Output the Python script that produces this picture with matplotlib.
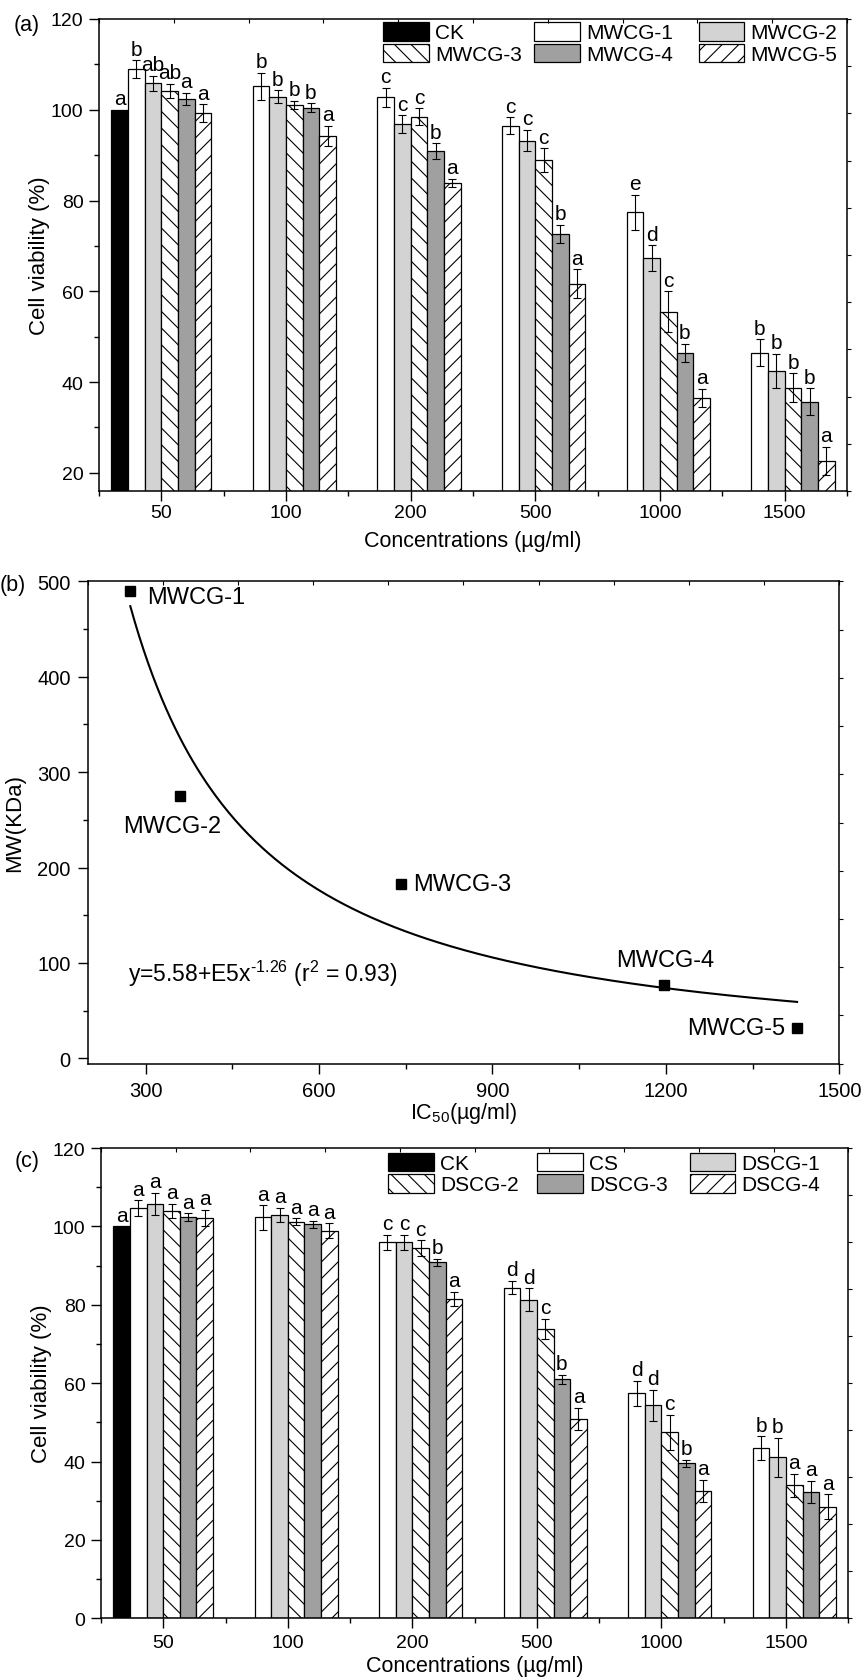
import numpy as np
import matplotlib
matplotlib.use("Agg")
import matplotlib.pyplot as plt
from matplotlib.patches import Patch
from matplotlib.legend import Legend
from matplotlib.ticker import MultipleLocator, FixedLocator

# ---------------- data ----------------
concentrations = ["50", "100", "200", "500", "1000", "1500"]

# (a) molecular-weight fractions
ck_a = 100.0
mwcg1 = [108.9, 105.2, 102.8, 96.5, 77.4, 46.5]
mwcg2 = [105.8, 102.9, 96.8, 93.2, 67.3, 42.5]
mwcg3 = [104.1, 101.1, 98.5, 88.9, 55.5, 38.8]
mwcg4 = [102.4, 100.5, 90.9, 72.6, 46.5, 35.7]
mwcg5 = [99.2, 94.3, 83.9, 61.7, 36.5, 22.6]
mwcg1_sd = [2.0, 3.0, 2.1, 1.8, 3.9, 2.9]
mwcg2_sd = [1.65, 1.4, 2.0, 2.35, 2.8, 3.75]
mwcg3_sd = [1.6, 0.9, 1.8, 2.6, 4.5, 3.15]
mwcg4_sd = [1.4, 0.9, 1.7, 2.0, 2.0, 2.9]
mwcg5_sd = [2.0, 2.2, 0.95, 3.2, 2.0, 3.1]
mwcg1_sig = ["b", "b", "c", "c", "e", "b"]
mwcg2_sig = ["ab", "b", "c", "c", "d", "b"]
mwcg3_sig = ["ab", "b", "c", "c", "c", "b"]
mwcg4_sig = ["a", "b", "b", "b", "b", "b"]
mwcg5_sig = ["a", "a", "a", "a", "a", "a"]

# (b) MW versus IC50
ic50 = [273.7, 359.0, 742.0, 1197.0, 1427.0]
mw = [489.5, 274.7, 182.4, 77.4, 31.3]
mw_names = ["MWCG-1", "MWCG-2", "MWCG-3", "MWCG-4", "MWCG-5"]
fit_a = 5.58e5
fit_b = -1.26

# (c) degree-of-substitution fractions
ck_c = 100.0
cs = [104.7, 102.3, 95.9, 84.4, 57.4, 43.5]
dscg1 = [105.7, 102.9, 95.9, 81.3, 54.3, 41.1]
dscg2 = [104.0, 101.2, 94.4, 73.8, 47.5, 33.9]
dscg3 = [102.3, 100.5, 90.8, 61.0, 39.5, 32.3]
dscg4 = [102.2, 98.9, 81.5, 50.8, 32.5, 28.5]
cs_sd = [2.0, 3.1, 2.0, 1.75, 3.15, 3.0]
dscg1_sd = [2.9, 1.9, 2.0, 2.9, 3.95, 5.0]
dscg2_sd = [1.8, 0.9, 2.0, 2.6, 4.5, 3.0]
dscg3_sd = [1.0, 1.0, 0.9, 1.1, 1.0, 2.85]
dscg4_sd = [2.0, 1.9, 1.8, 2.85, 2.9, 3.1]
cs_sig = ["a", "a", "c", "d", "d", "b"]
dscg1_sig = ["a", "a", "c", "d", "d", "b"]
dscg2_sig = ["a", "a", "c", "c", "c", "a"]
dscg3_sig = ["a", "a", "b", "b", "b", "a"]
dscg4_sig = ["a", "a", "a", "a", "a", "a"]

# ---------------- style ----------------
W, H = 863, 1681
plt.rcParams.update({
    "font.family": ["Liberation Sans", "DejaVu Sans"],
    "mathtext.fontset": "custom",
    "mathtext.rm": "Liberation Sans",
    "mathtext.it": "Liberation Sans:italic",
    "mathtext.bf": "Liberation Sans:bold",
    "hatch.linewidth": 0.8,
    "axes.linewidth": 1.1,
})

TICK_FS = 14
LABEL_FS = 15.5
YLABEL_FS = 16
LEGEND_FS = 15
SIG_FS = 15

# fill / hatch for the six bar series (control first)
bar_styles = [
    dict(facecolor="black", hatch=None),
    dict(facecolor="white", hatch=None),
    dict(facecolor="#d3d3d3", hatch=None),
    dict(facecolor="white", hatch="\\\\"),
    dict(facecolor="#a0a0a0", hatch=None),
    dict(facecolor="white", hatch="//"),
]

fig = plt.figure(figsize=(W / 100, H / 100), dpi=100)


def axes_px(left, top, right, bottom):
    return fig.add_axes([left / W, 1 - bottom / H, (right - left) / W, (bottom - top) / H])


def fig_xy(x, y):
    return x / W, 1 - y / H


def frame_ticks(ax):
    """Unlabelled ticks dividing the top and right frame into ten parts."""
    top = ax.twiny()
    top.set_xlim(0, 10)
    top.xaxis.set_major_locator(FixedLocator(range(11)))
    top.tick_params(axis="x", direction="in", length=3, width=0.8, labeltop=False)
    right = ax.twinx()
    right.set_ylim(0, 10)
    right.yaxis.set_major_locator(FixedLocator(range(11)))
    right.tick_params(axis="y", direction="out", length=3, width=0.8, labelright=False)
    for t in (top, right):
        for s in t.spines.values():
            s.set_visible(False)


def bar_panel(ax, ck_value, names, means, sds, sigs, legend_cols, legend_top, ylim, xpad):
    n_slots = 6
    width = 0.8 / n_slots
    x = np.arange(len(concentrations))
    offs = (np.arange(n_slots) - (n_slots - 1) / 2) * width

    # control bar (only at the lowest concentration)
    ax.bar(x[0] + offs[0], ck_value, width, color="black", edgecolor="black", linewidth=0.9)
    ax.annotate("a", (x[0] + offs[0], ck_value), xytext=(0, 4), textcoords="offset points",
                ha="center", va="baseline", fontsize=SIG_FS)

    for i, (m, e, s) in enumerate(zip(means, sds, sigs)):
        st = bar_styles[i + 1]
        xs = x + offs[i + 1]
        ax.bar(xs, m, width, facecolor=st["facecolor"], hatch=st["hatch"],
               edgecolor="black", linewidth=0.9)
        ax.errorbar(xs, m, yerr=e, fmt="none", ecolor="black", elinewidth=0.8,
                    capsize=3.2, capthick=0.8, zorder=3)
        for xi, mi, ei, si in zip(xs, m, e, s):
            ax.annotate(si, (xi, mi + ei), xytext=(0, 4), textcoords="offset points",
                        ha="center", va="baseline", fontsize=SIG_FS, zorder=4)

    ax.set_xlim(-0.5, len(concentrations) - 0.5)
    ax.set_ylim(*ylim)
    ax.set_xticks(x)
    ax.set_xticklabels(concentrations)
    ax.xaxis.set_minor_locator(FixedLocator(np.arange(-0.5, len(concentrations), 1.0)))
    ax.yaxis.set_major_locator(MultipleLocator(20))
    ax.yaxis.set_minor_locator(MultipleLocator(10))
    ax.tick_params(axis="both", which="major", direction="out", length=7.2, width=1.0,
                   labelsize=TICK_FS)
    ax.tick_params(axis="both", which="minor", direction="out", length=3.6, width=1.0)
    ax.tick_params(axis="x", which="major", pad=xpad)
    ax.tick_params(axis="y", which="major", pad=4)

    # legend, three columns of two entries
    handles = [Patch(facecolor=bar_styles[k]["facecolor"], hatch=bar_styles[k]["hatch"],
                     edgecolor="black", linewidth=0.9) for k in range(6)]
    for j, xcol in enumerate(legend_cols):
        leg = Legend(ax, [handles[j], handles[j + 3]], [names[j], names[j + 3]],
                     loc="upper left", bbox_to_anchor=fig_xy(xcol, legend_top),
                     bbox_transform=fig.transFigure, frameon=False, borderpad=0,
                     borderaxespad=0, fontsize=LEGEND_FS, handlelength=2.2,
                     handleheight=1.0, handletextpad=0.3, labelspacing=0.05)
        ax.add_artist(leg)
    frame_ticks(ax)


# ---------------- (a) ----------------
ax_a = axes_px(99, 20, 847, 492)
bar_panel(ax_a, ck_a,
          ["CK", "MWCG-1", "MWCG-2", "MWCG-3", "MWCG-4", "MWCG-5"],
          [mwcg1, mwcg2, mwcg3, mwcg4, mwcg5],
          [mwcg1_sd, mwcg2_sd, mwcg3_sd, mwcg4_sd, mwcg5_sd],
          [mwcg1_sig, mwcg2_sig, mwcg3_sig, mwcg4_sig, mwcg5_sig],
          legend_cols=[383, 534, 698.5], legend_top=23, ylim=(16, 120), xpad=2)
fig.text(*fig_xy(40, 256), "Cell viability (%)", rotation=90, ha="center", va="center",
         fontsize=YLABEL_FS)
fig.text(*fig_xy(473, 542), "Concentrations (µg/ml)", ha="center", va="center",
         fontsize=LABEL_FS)
fig.text(*fig_xy(27, 25), "(a)", ha="center", va="center", fontsize=LABEL_FS)

# ---------------- (b) ----------------
ax_b = axes_px(87.7, 582.3, 839.3, 1064.7)
ax_b.plot(ic50, mw, "s", color="black", markersize=7.5, zorder=3)
xfit = np.linspace(min(ic50), max(ic50), 300)
ax_b.plot(xfit, fit_a * xfit ** fit_b, color="black", linewidth=1.5)
ax_b.set_xlim(200, 1500)
ax_b.set_ylim(-5.6, 500)
ax_b.xaxis.set_major_locator(MultipleLocator(300))
ax_b.xaxis.set_minor_locator(MultipleLocator(150))
ax_b.yaxis.set_major_locator(MultipleLocator(100))
ax_b.yaxis.set_minor_locator(MultipleLocator(50))
ax_b.tick_params(axis="both", which="major", direction="out", length=7.2, width=1.0,
                 labelsize=14.5)
ax_b.tick_params(axis="both", which="minor", direction="out", length=3.6, width=1.0)
ax_b.tick_params(axis="x", which="major", pad=5)
ax_b.tick_params(axis="y", which="major", pad=5)

label_offsets = [(12, -4, "left"), (-5, -21.6, "center"), (8.6, 0, "left"),
                 (0.5, 17.5, "center"), (-8.8, 0, "right")]
for xi, yi, name, (dx, dy, ha) in zip(ic50, mw, mw_names, label_offsets):
    ax_b.annotate(name, (xi, yi), xytext=(dx, dy), textcoords="offset points",
                  ha=ha, va="center", fontsize=17)
ax_b.text(269, 90, "y=5.58+E5x$\\mathregular{^{\u2010 1.26}}$ (r$\\mathregular{^{2}}$ = 0.93)"
          .replace("\u2010 ", "\u2010"),
          ha="left", va="center", fontsize=16.5)
frame_ticks(ax_b)
fig.text(*fig_xy(15, 823), "MW(KDa)", rotation=90, ha="center", va="center", fontsize=YLABEL_FS)
fig.text(*fig_xy(463.5, 1113), r"IC$\mathregular{_{50}}$(µg/ml)", ha="center", va="center",
         fontsize=LABEL_FS)
fig.text(*fig_xy(13, 585), "(b)", ha="center", va="center", fontsize=LABEL_FS)

# ---------------- (c) ----------------
ax_c = axes_px(101, 1149, 848.3, 1619.3)
bar_panel(ax_c, ck_c,
          ["CK", "CS", "DSCG-1", "DSCG-2", "DSCG-3", "DSCG-4"],
          [cs, dscg1, dscg2, dscg3, dscg4],
          [cs_sd, dscg1_sd, dscg2_sd, dscg3_sd, dscg4_sd],
          [cs_sig, dscg1_sig, dscg2_sig, dscg3_sig, dscg4_sig],
          legend_cols=[388, 537, 689.5], legend_top=1153.5, ylim=(0, 120), xpad=4)
fig.text(*fig_xy(41, 1384), "Cell viability (%)", rotation=90, ha="center", va="center",
         fontsize=YLABEL_FS)
fig.text(*fig_xy(475, 1667), "Concentrations (µg/ml)", ha="center", va="center",
         fontsize=LABEL_FS)
fig.text(*fig_xy(27, 1161), "(c)", ha="center", va="center", fontsize=LABEL_FS)

fig.savefig("out.png", dpi=100)
